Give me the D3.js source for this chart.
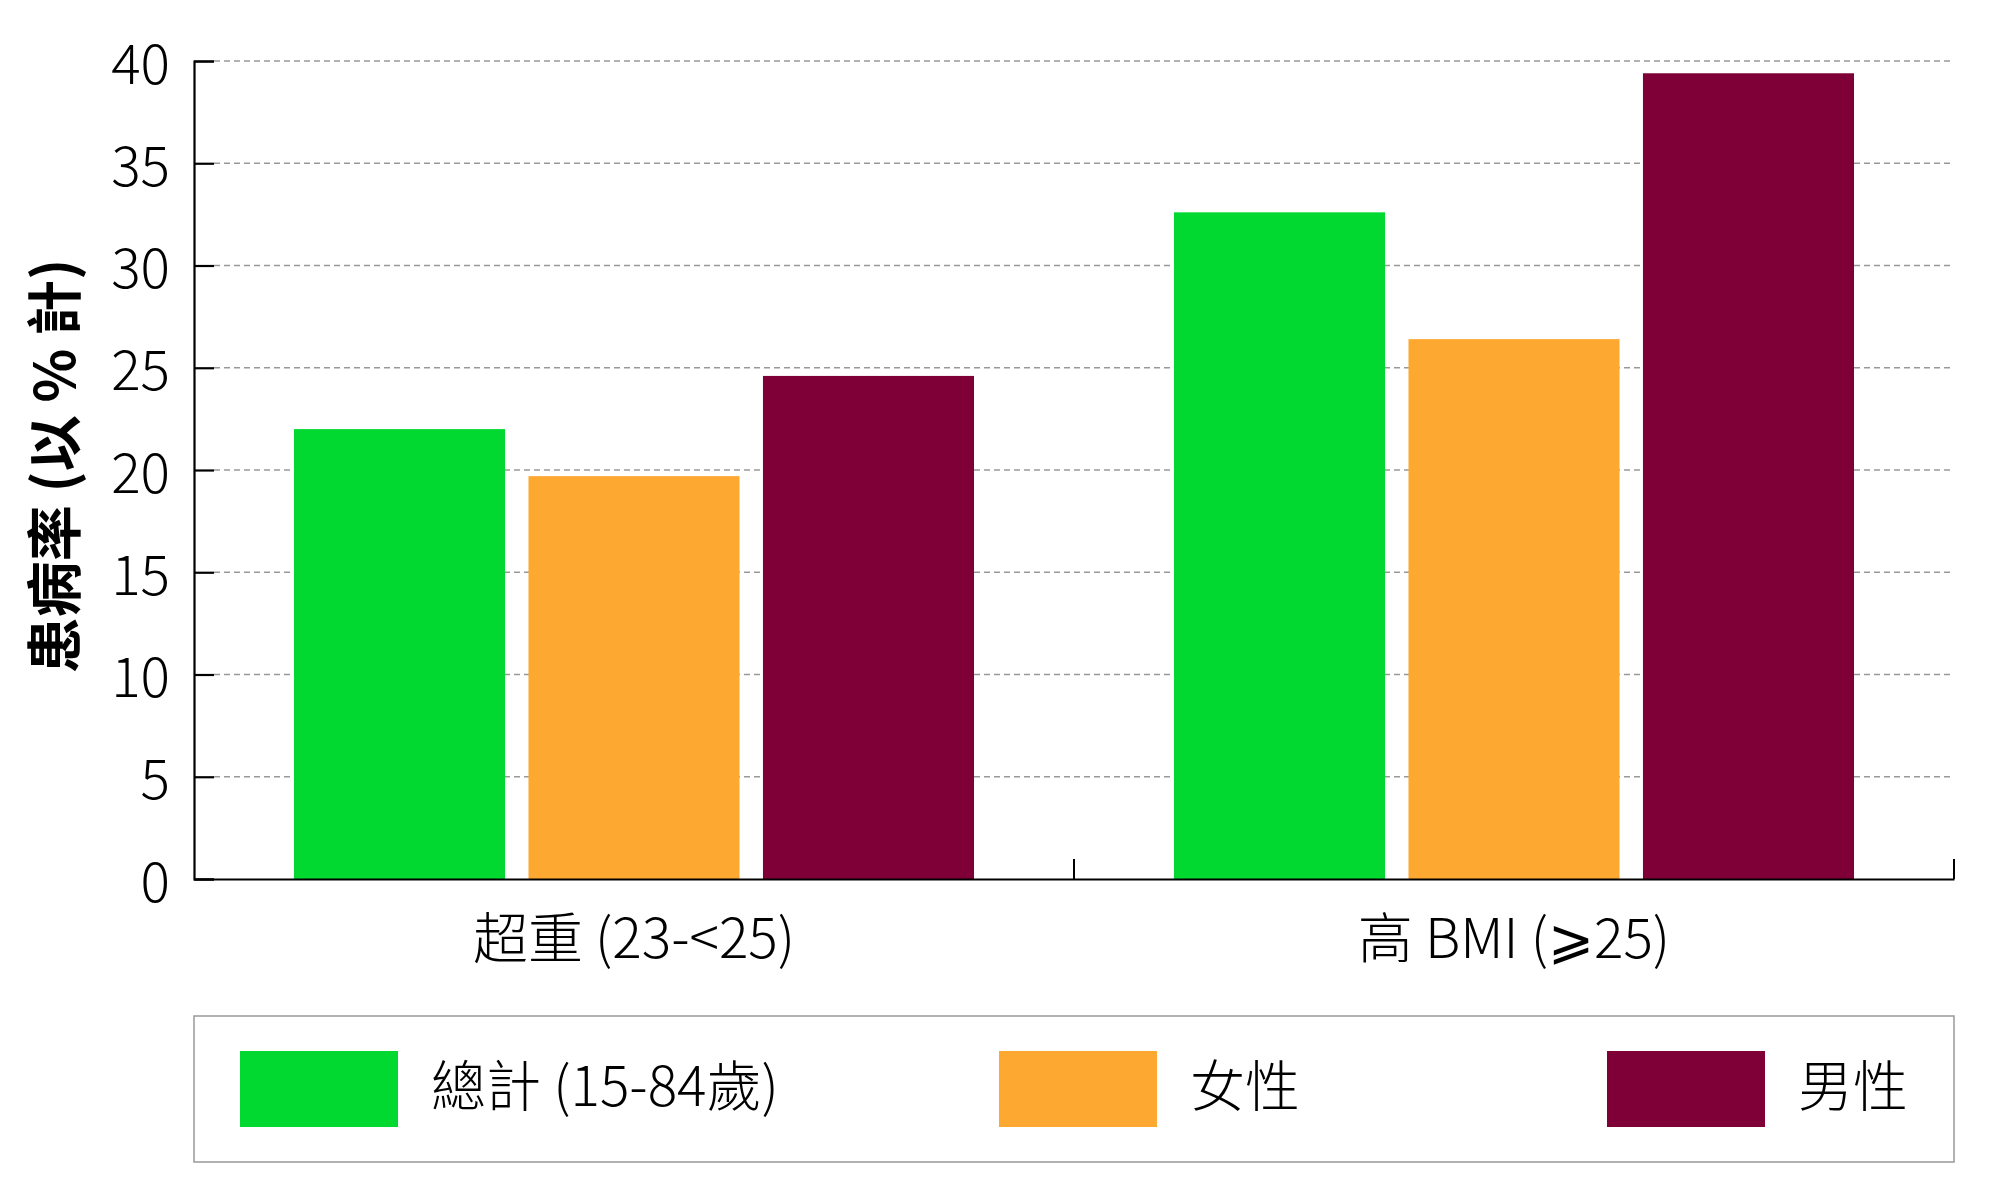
<!DOCTYPE html>
<html>
<head>
<meta charset="utf-8">
<script src="https://cdn.jsdelivr.net/npm/d3@7"></script>
<style>
  body{margin:0;background:#fff;}
  svg{font-family:"Noto Sans CJK TC","Noto Sans CJK SC",sans-serif;}
  .tick text{font-size:55px;font-weight:300;fill:#000;}
  .grid line{stroke:#999;stroke-width:1.3;stroke-dasharray:6,4;}
</style>
</head>
<body>
<script>
// data
var categories=['超重 (23-<25)','高 BMI (⩾25)'];
var seriesNames=['總計 (15-84歲)','女性','男性'];
var seriesColors=['#02d930','#fda931','#7f0037'];
var totalVals=[22.0,32.6];
var femaleVals=[19.7,26.4];
var maleVals=[24.6,39.4];
var yTicks=[0,5,10,15,20,25,30,35,40];

var W=2000,H=1192;
var m={left:194,right:46,top:61,bottom:313};
var w=W-m.left-m.right,h=H-m.top-m.bottom;

var svg=d3.select('body').append('svg').attr('width',W).attr('height',H);
var g=svg.append('g').attr('transform','translate('+m.left+','+m.top+')');

var rows=[];
categories.forEach(function(c,i){
    rows.push({cat:c,vals:[totalVals[i],femaleVals[i],maleVals[i]]});
});

var x0=d3.scaleBand().domain(categories).range([0,w]).padding(0);
var pad=100;
var x1=d3.scaleBand().domain(seriesNames).range([pad,x0.bandwidth()-pad]).paddingInner(0.1).paddingOuter(0);
var y=d3.scaleLinear().domain([0,40]).range([h,0]);

// grid
g.append('g').attr('class','grid').selectAll('line').data(yTicks.slice(1)).enter().append('line')
    .attr('x1',20).attr('x2',w)
    .attr('y1',function(d){return y(d)}).attr('y2',function(d){return y(d)});

// bars
var grp=g.selectAll('.grp').data(rows).enter().append('g')
    .attr('transform',function(d){return 'translate('+x0(d.cat)+',0)'});
grp.selectAll('rect').data(function(d){return d.vals.map(function(v,i){return {s:seriesNames[i],v:v,c:seriesColors[i]}})})
    .enter().append('rect')
    .attr('x',function(d){return x1(d.s)})
    .attr('width',x1.bandwidth())
    .attr('y',function(d){return y(d.v)})
    .attr('height',function(d){return h-y(d.v)})
    .attr('fill',function(d){return d.c});

// y axis
var yAxis=g.append('g').call(d3.axisLeft(y).tickValues(yTicks).tickSize(-20).tickPadding(24))
    .attr('font-family',null).attr('font-size',null);
yAxis.select('.domain').attr('stroke','#000').attr('stroke-width',2.2);
yAxis.selectAll('.tick line').attr('stroke','#000').attr('stroke-width',2.2);
yAxis.selectAll('.tick text').attr('dy','0.4em');

// x axis
var xAxis=g.append('g').attr('transform','translate(0,'+h+')')
    .call(d3.axisBottom(x0).tickSize(0).tickPadding(0))
    .attr('font-family',null).attr('font-size',null);
xAxis.select('.domain').attr('stroke','#000').attr('stroke-width',2.2);
xAxis.selectAll('.tick text').attr('y',79).attr('dy',0).style('font-size','55px')
    .each(function(d){
        // thin glyph for the ⩾ sign
        var t=d3.select(this), parts=d.split('⩾');
        if(parts.length<2) return;
        t.text(null);
        t.append('tspan').text(parts[0]);
        t.append('tspan').style('font-family','"DejaVu Sans"').style('font-weight',200).text('⩾');
        t.append('tspan').text(parts[1]);
    });
xAxis.selectAll('.bound').data(categories).enter().append('line')
    .attr('x1',function(d){return x0(d)+x0.bandwidth()})
    .attr('x2',function(d){return x0(d)+x0.bandwidth()})
    .attr('y1',0).attr('y2',-20)
    .attr('stroke','#000').attr('stroke-width',2);

// y title
svg.append('text')
    .attr('transform','translate(50,'+(m.top+h/2-4)+') rotate(-90)')
    .attr('text-anchor','middle')
    .attr('dominant-baseline','central')
    .style('font-size','56px').style('font-weight',700)
    .text('患病率 (以 % 計)');

// legend
var lg=svg.append('g');
lg.append('rect').attr('x',194).attr('y',1016).attr('width',w).attr('height',146)
    .attr('fill','none').attr('stroke','#999').attr('stroke-width',1.5);
var legX=[240,999,1607];
var item=lg.selectAll('.item').data(seriesNames).enter().append('g')
    .attr('transform',function(d,i){return 'translate('+legX[i]+',1051)'});
item.append('rect').attr('width',158).attr('height',76)
    .attr('fill',function(d,i){return seriesColors[i]});
item.append('text').attr('x',191).attr('y',55)
    .style('font-size','55px').style('font-weight',300)
    .text(function(d){return d});
</script>
</body>
</html>
